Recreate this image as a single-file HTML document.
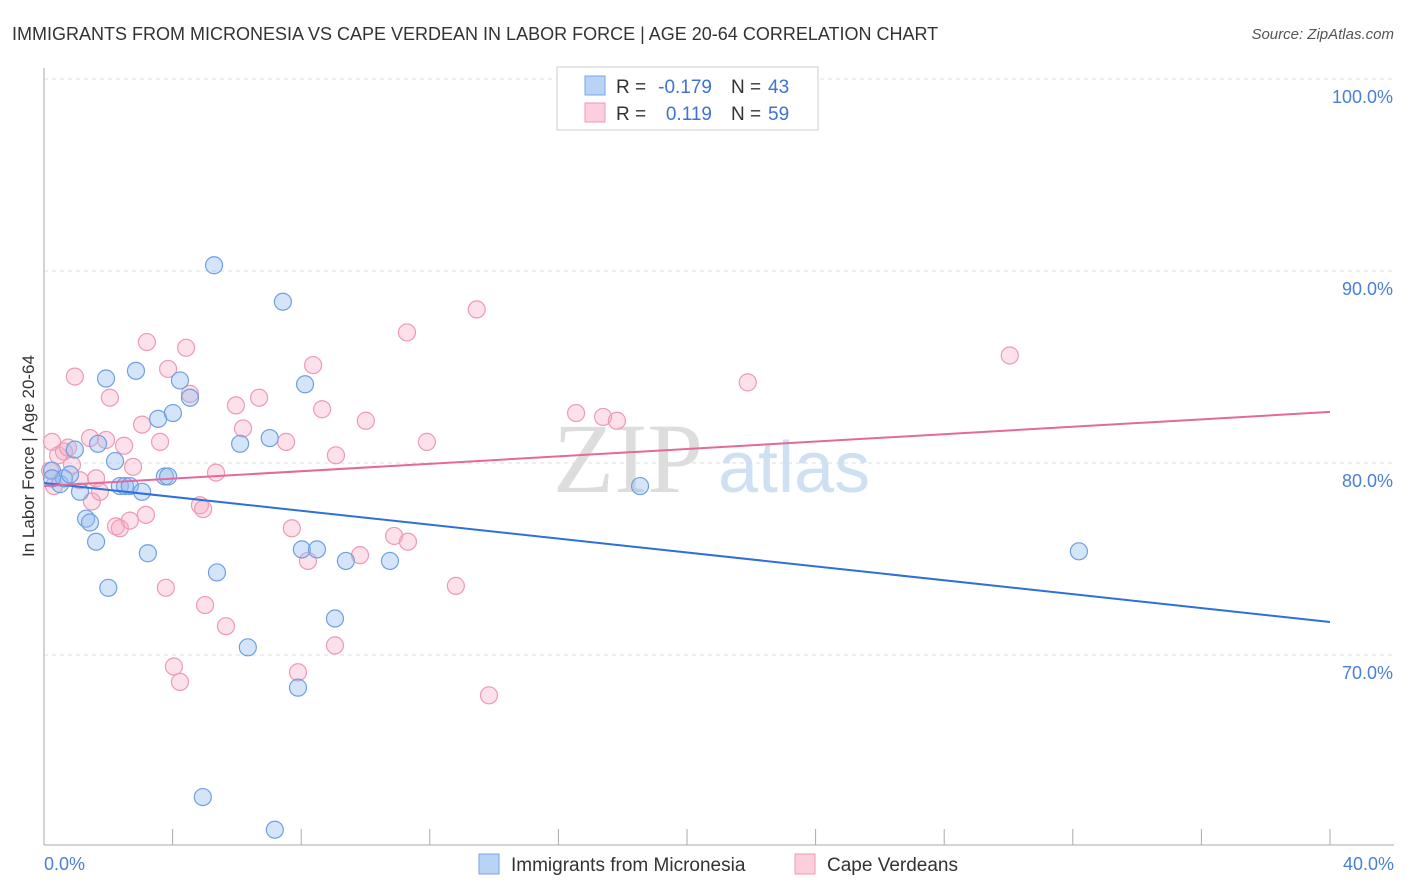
<!DOCTYPE html>
<html><head><meta charset="utf-8"><style>
body{margin:0;background:#fff;font-family:"Liberation Sans",sans-serif;}
</style></head><body>
<svg id="chart" width="1406" height="892" style="display:block">
<text x="12" y="40" font-size="18" fill="#333">IMMIGRANTS FROM MICRONESIA VS CAPE VERDEAN IN LABOR FORCE | AGE 20-64 CORRELATION CHART</text>
<text x="1394" y="39" font-size="15" fill="#555" font-style="italic" text-anchor="end">Source: ZipAtlas.com</text>
<text x="553" y="492" font-size="100" fill="#ddd" font-family="Liberation Serif,serif">ZIP</text>
<text x="718" y="492" font-size="72" fill="#cfe0f3">atlas</text>
<g id="grid"></g><g id="pts"></g><g id="lines"></g>
<text transform="translate(34,456) rotate(-90)" font-size="17" fill="#333" text-anchor="middle">In Labor Force | Age 20-64</text>
<text x="44" y="870" font-size="18" fill="#4a7fd6">0.0%</text>
<text x="1394" y="870" font-size="18" fill="#4a7fd6" text-anchor="end">40.0%</text>
<g>
<rect x="557" y="67" width="261" height="63" fill="#fff" stroke="#ccc"/>
<rect x="585" y="76" width="20" height="19" fill="#b8d3f5" stroke="#7aa6e6"/>
<rect x="585" y="103" width="20" height="19" fill="#fbcfdc" stroke="#ee9ab4"/>
<text x="616" y="93" font-size="19" fill="#333">R =</text>
<text x="712" y="93" font-size="19" fill="#3d73d6" text-anchor="end">-0.179</text>
<text x="731" y="93" font-size="19" fill="#333">N =</text>
<text x="768" y="93" font-size="19" fill="#3d73d6">43</text>
<text x="616" y="120" font-size="19" fill="#333">R =</text>
<text x="712" y="120" font-size="19" fill="#3d73d6" text-anchor="end">0.119</text>
<text x="731" y="120" font-size="19" fill="#333">N =</text>
<text x="768" y="120" font-size="19" fill="#3d73d6">59</text>
</g>
<g>
<rect x="479" y="854" width="20" height="20" fill="#b8d3f5" stroke="#7aa6e6"/>
<text x="511" y="871" font-size="19" fill="#333">Immigrants from Micronesia</text>
<rect x="795" y="854" width="20" height="20" fill="#fbcfdc" stroke="#ee9ab4"/>
<text x="827" y="871" font-size="19" fill="#333">Cape Verdeans</text>
</g>
</svg>
<script>
const yTicks=[100,90,80,70];
const xTicks=[0,4,8,12,16,20,24,28,32,36,40];
const blueX=[0.25,0.5,0.62,0.81,0.96,1.12,1.31,1.43,1.62,1.68,1.93,2.0,2.21,2.36,2.52,2.67,2.86,3.05,3.23,3.55,3.76,3.86,4.01,4.23,4.54,4.94,5.29,5.38,6.1,6.34,7.02,7.43,7.9,8.02,8.12,8.49,9.05,9.39,10.76,18.54,32.19,7.18,0.25];
const blueY=[79.6,78.9,79.2,79.4,80.7,78.5,77.1,76.9,75.9,81.0,84.4,73.5,80.1,78.8,78.8,78.8,84.8,78.5,75.3,82.3,79.3,79.3,82.6,84.3,83.4,62.6,90.3,74.3,81.0,70.4,81.3,88.4,68.3,75.5,84.1,75.5,71.9,74.9,74.9,78.8,75.4,60.9,79.2];
const pinkX=[0.19,0.25,0.31,0.44,0.62,0.75,0.87,0.96,1.12,1.43,1.49,1.62,1.74,1.93,2.05,2.24,2.36,2.49,2.67,2.77,3.05,3.17,3.2,3.61,3.79,3.86,4.04,4.23,4.42,4.54,4.85,4.95,5.01,5.35,5.66,5.97,6.19,6.69,7.53,7.71,7.9,8.21,8.37,8.65,9.05,9.08,9.83,10.01,10.89,11.29,11.32,11.91,12.81,13.46,13.84,16.55,17.39,17.82,21.89,30.04];
const pinkY=[79.6,81.1,78.8,80.4,80.6,80.8,79.9,84.5,79.1,81.3,78.0,79.2,78.5,81.2,83.4,76.7,76.6,80.9,77.0,79.8,82.0,77.3,86.3,81.1,73.5,84.9,69.4,68.6,86.0,83.6,77.8,77.6,72.6,79.5,71.5,83.0,81.8,83.4,81.1,76.6,69.1,74.9,85.1,82.8,70.5,80.4,75.2,82.2,76.2,86.8,75.9,81.1,73.6,88.0,67.9,82.6,82.4,82.2,84.2,85.6];
const trendX=[0,40];
const blueTrend=[78.96,71.72];
const pinkTrend=[78.8,82.66];
const X=v=>44+v/40*1286, Y=v=>79+(100-v)*19.2;
const NS='http://www.w3.org/2000/svg';
function mk(tag,attrs,parent){const e=document.createElementNS(NS,tag);for(const k in attrs)e.setAttribute(k,attrs[k]);document.getElementById(parent).appendChild(e);return e;}
yTicks.forEach(t=>{
 const l=mk('line',{x1:44,x2:1394,y1:Y(t),y2:Y(t),stroke:'#ddd','stroke-dasharray':'4,4'},'grid');
 
 
 const tx=mk('text',{x:1393,y:Y(t)+24,'font-size':18,fill:'#4a7fd6','text-anchor':'end'},'grid');
 tx.textContent=t.toFixed(1)+'%';
 
 
});
const ax=mk('line',{x1:44,x2:44,y1:68,y2:845,stroke:'#aaa'},'grid');


const bx=mk('line',{x1:44,x2:1394,y1:845,y2:845,stroke:'#aaa'},'grid');


xTicks.forEach(t=>{
 const l=mk('line',{x1:X(t),x2:X(t),y1:829,y2:845,stroke:'#aaa'},'grid');
 
 
});
pinkX.forEach((v,i)=>{
 const c=mk('circle',{cx:X(v),cy:Y(pinkY[i]),r:8.5,fill:'rgba(246,170,195,0.35)',stroke:'#ee9ab4','stroke-width':1.2},'pts');
 
 
});
blueX.forEach((v,i)=>{
 const c=mk('circle',{cx:X(v),cy:Y(blueY[i]),r:8.5,fill:'rgba(150,190,240,0.4)',stroke:'#6f9fe3','stroke-width':1.2},'pts');
 
 
});
const bl=mk('line',{x1:X(trendX[0]),y1:Y(blueTrend[0]),x2:X(trendX[1]),y2:Y(blueTrend[1]),stroke:'#2f6fd8','stroke-width':2},'lines');


const pl=mk('line',{x1:X(trendX[0]),y1:Y(pinkTrend[0]),x2:X(trendX[1]),y2:Y(pinkTrend[1]),stroke:'#e5699a','stroke-width':2},'lines');


</script>
</body></html>
